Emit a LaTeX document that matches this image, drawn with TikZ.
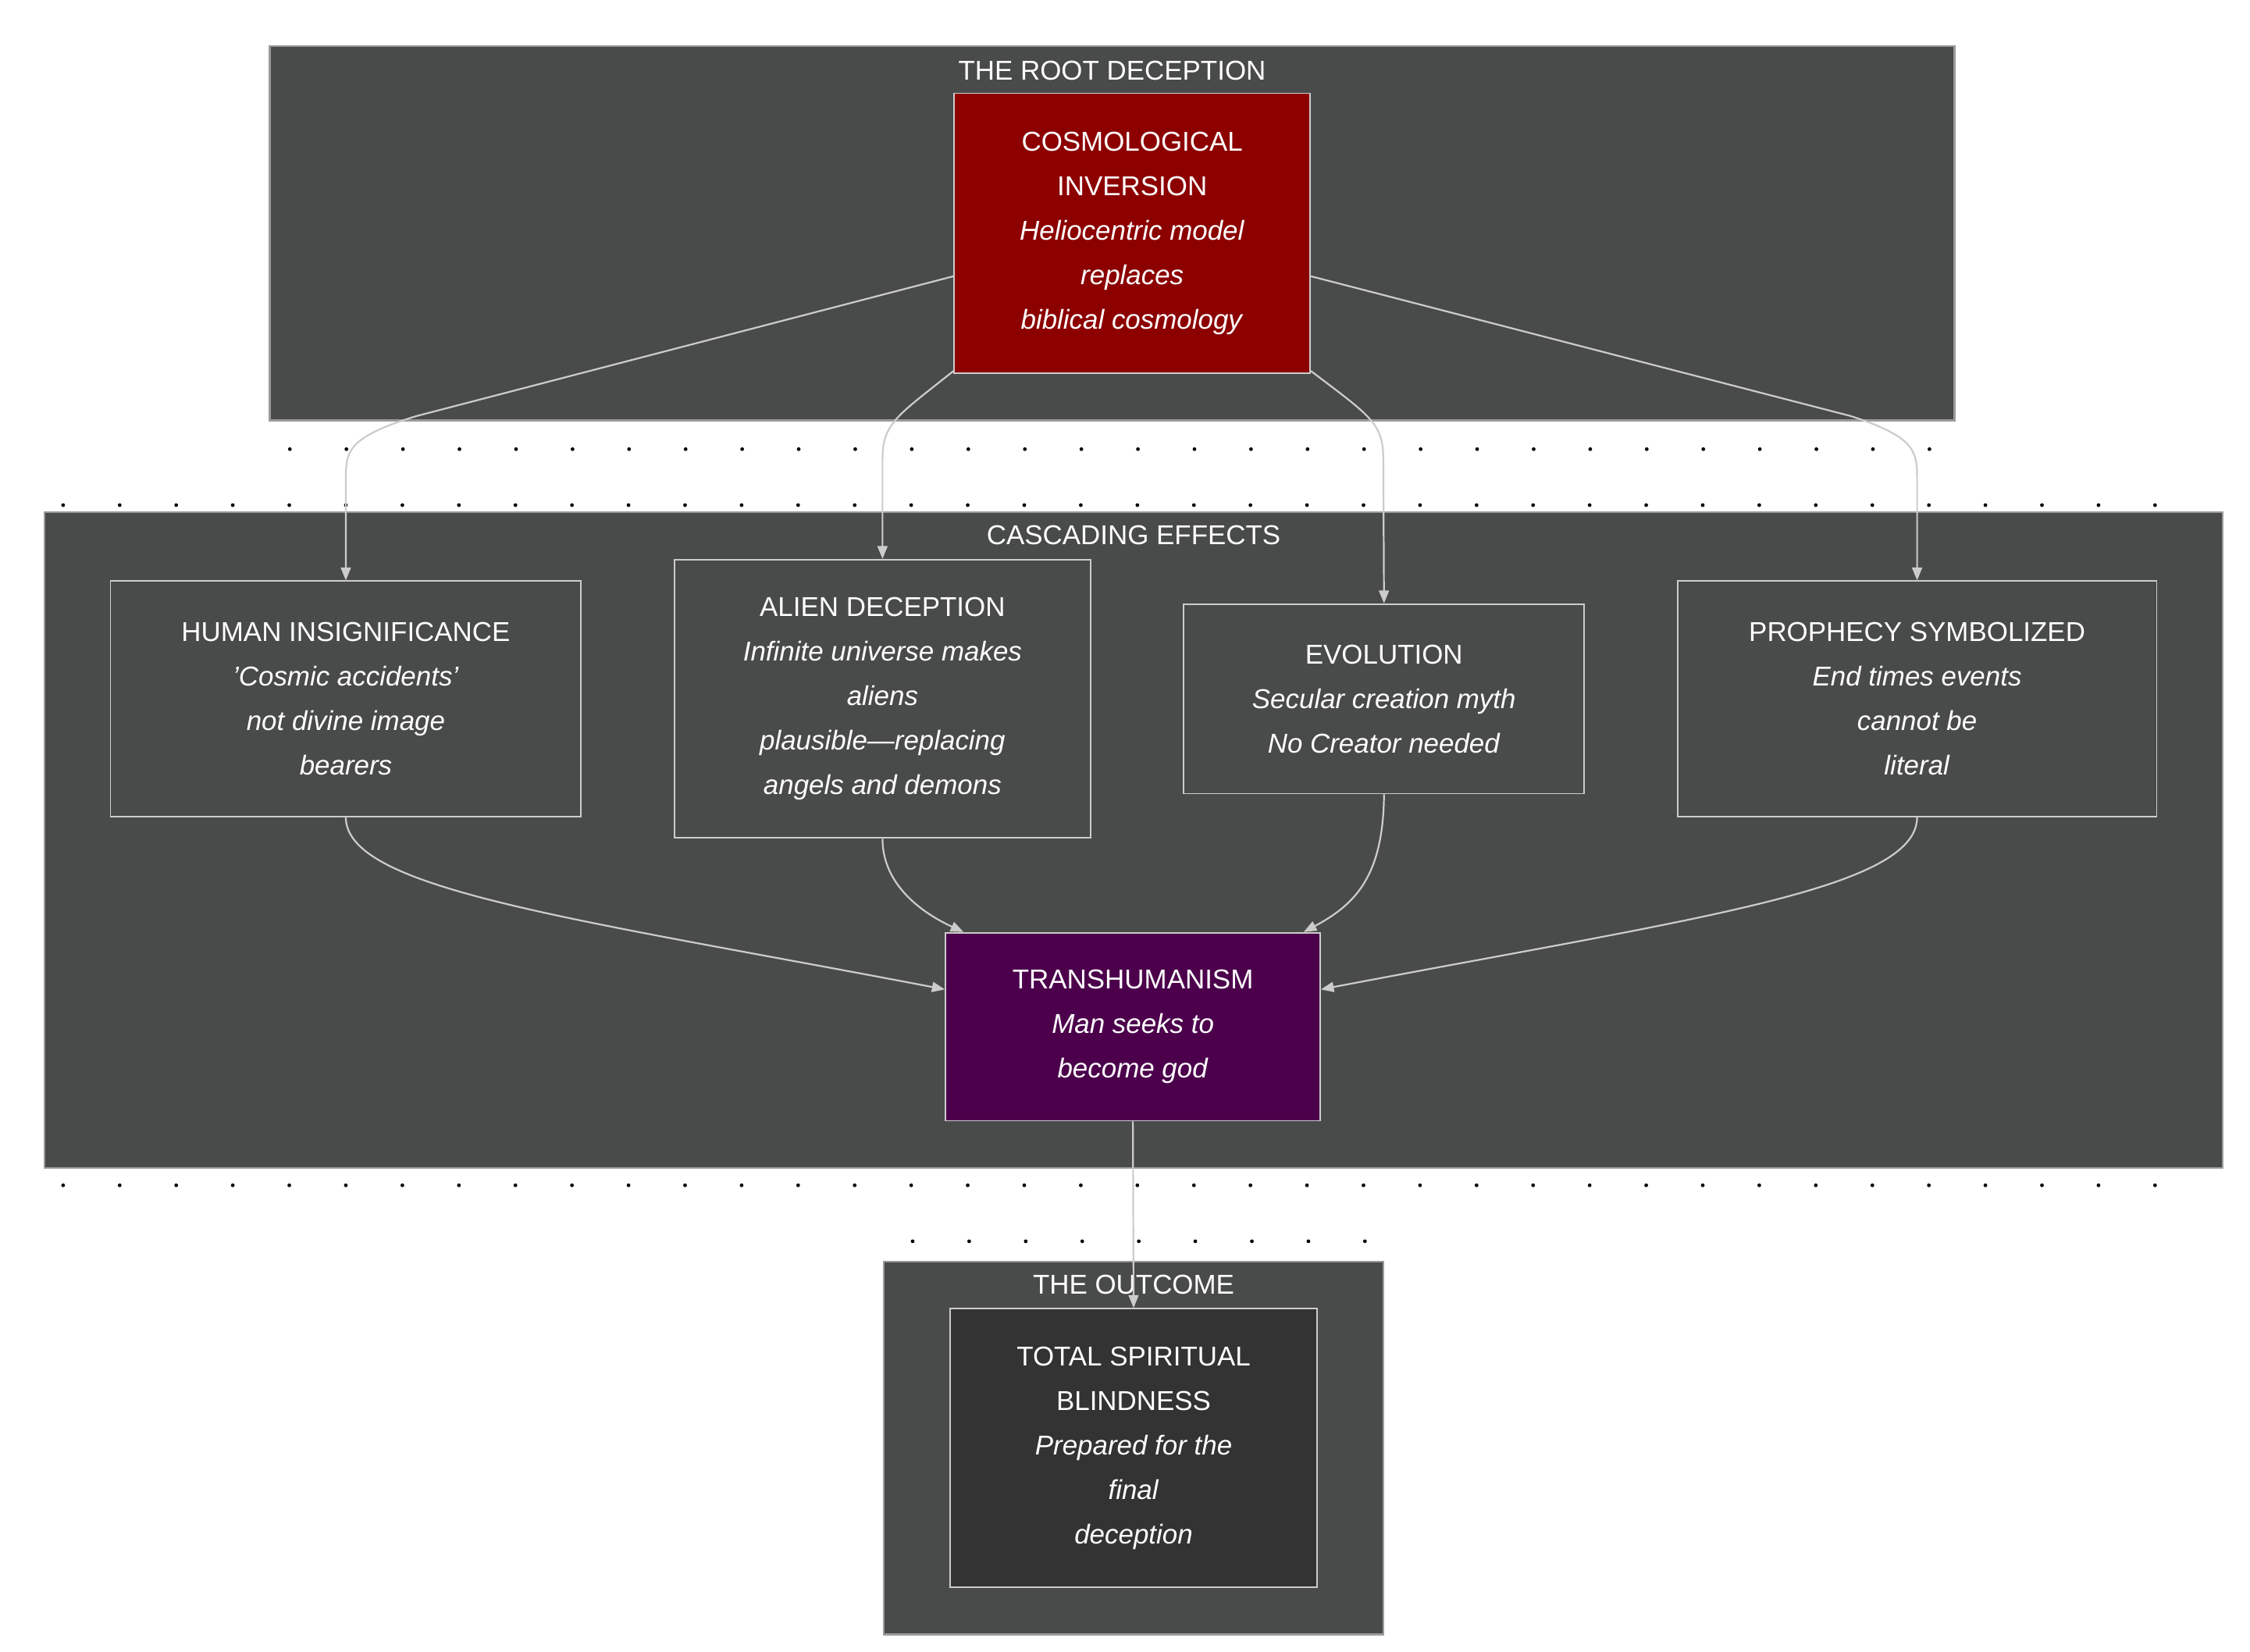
\documentclass[tikz,border=0pt]{standalone}
\usepackage{fontspec}
\setmainfont{Liberation Sans}
\usetikzlibrary{calc,arrows.meta}
\definecolor{bg}{HTML}{494A4A}
\definecolor{bd}{HTML}{9A9A9A}
\definecolor{ln}{HTML}{CCCCCC}
\begin{document}
\begin{tikzpicture}[x=1pt,y=-1pt,
  grp/.style={draw=bd,fill=bg,line width=1.2pt},
  box/.style={draw=ln,line width=1pt,text=white,align=center,font=\fontsize{19}{31}\selectfont,inner sep=0pt},
  ttl/.style={text=white,font=\fontsize{19}{22}\selectfont},
  arr/.style={draw=ln,line width=1.2pt,-{Triangle[length=9pt,width=7pt]}},
  dot/.style={fill=black,circle,inner sep=0pt,minimum size=2.6pt}]
\useasboundingbox (0,0) rectangle (1568,1151);
\fill[white] (0,0) rectangle (1568,1151);
% groups
\draw[grp] (188,32) rectangle (1362,293);
\node[ttl] (t1) at (775,49) {THE ROOT DECEPTION};
\draw[grp] (31,357) rectangle (1549,814);
\node[ttl] (t2) at (790,373) {CASCADING EFFECTS};
\draw[grp] (616,879) rectangle (964,1139);
\node[ttl] (t3) at (790,895) {THE OUTCOME};
% dots
\foreach \i in {0,...,29} {\node[dot] at (202+39.4*\i,313) {};}
\foreach \i in {0,...,37} {\node[dot] at (44+39.4*\i,352) {};}
\foreach \i in {0,...,37} {\node[dot] at (44+39.4*\i,826) {};}
\foreach \i in {0,...,8} {\node[dot] at (636+39.4*\i,865) {};}
% nodes
\node[box,fill=red!55!black,minimum width=248pt,minimum height=195pt] (cos) at (789,162.5)
 {COSMOLOGICAL\\INVERSION\\\textit{Heliocentric model}\\\textit{replaces}\\\textit{biblical cosmology}};
\node[box,minimum width=328pt,minimum height=164pt] (hum) at (241,487)
 {HUMAN INSIGNIFICANCE\\\textit{'Cosmic accidents'}\\\textit{not divine image}\\\textit{bearers}};
\node[box,minimum width=290pt,minimum height=194pt] (ali) at (615,487)
 {ALIEN DECEPTION\\\textit{Infinite universe makes}\\\textit{aliens}\\\textit{plausible—replacing}\\\textit{angels and demons}};
\node[box,minimum width=279pt,minimum height=132pt] (evo) at (964.5,487)
 {EVOLUTION\\\textit{Secular creation myth}\\\textit{No Creator needed}};
\node[box,minimum width=334pt,minimum height=164pt] (pro) at (1336,487)
 {PROPHECY SYMBOLIZED\\\textit{End times events}\\\textit{cannot be}\\\textit{literal}};
\node[box,fill=violet!60!black,minimum width=261pt,minimum height=131pt] (tra) at (789.5,715.5)
 {TRANSHUMANISM\\\textit{Man seeks to}\\\textit{become god}};
\node[box,fill=black!80,minimum width=256pt,minimum height=194pt] (tot) at (790,1009)
 {TOTAL SPIRITUAL\\BLINDNESS\\\textit{Prepared for the}\\\textit{final}\\\textit{deception}};
% edges
\draw[arr] ($(cos.south west)+(0,-68)$) -- (290,290) .. controls (241,305) and (241,315) .. (241,335) -- (hum.north);
\draw[arr] ($(cos.south west)+(0,-2)$) .. controls (625,290) and (615,295) .. (615,320) -- (ali.north);
\draw[arr] ($(cos.south east)+(0,-2)$) .. controls (955,290) and (964,295) .. (964,320) -- (evo.north);
\draw[arr] ($(cos.south east)+(0,-68)$) -- (1290,290) .. controls (1336,305) and (1336,315) .. (1336,335) -- (pro.north);
\draw[arr] (hum.south) .. controls (241,620) and (400,640) .. ($(tra.north west)+(0,40)$);
\draw[arr] (ali.south) .. controls (615,615) and (640,635) .. ($(tra.north west)+(13,0)$);
\draw[arr] (evo.south) .. controls (964,610) and (945,630) .. ($(tra.north east)+(-12,0)$);
\draw[arr] (pro.south) .. controls (1336,620) and (1180,640) .. ($(tra.north east)+(0,40)$);
\draw[arr] (tra.south) -- (tot.north);
\end{tikzpicture}
\end{document}
